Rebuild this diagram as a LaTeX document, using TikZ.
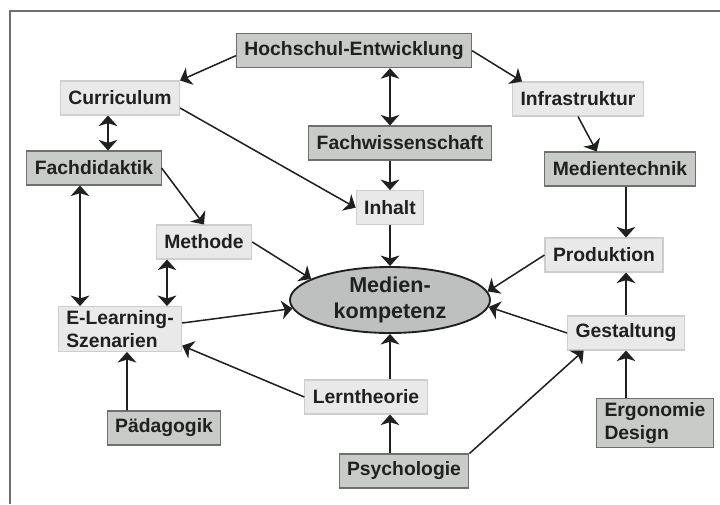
\documentclass[tikz,border=0pt]{standalone}
\usepackage{fontspec}
\setmainfont{Liberation Sans}
\usepackage{tikz}
\usetikzlibrary{shapes,shapes.geometric,positioning,calc,arrows.meta}

\definecolor{darkfill}{RGB}{200,203,200}
\definecolor{darkline}{RGB}{110,112,110}
\definecolor{lightfill}{RGB}{232,233,232}
\definecolor{lightline}{RGB}{205,207,205}
\definecolor{kernfill}{RGB}{190,192,191}
\definecolor{ink}{RGB}{32,32,32}

\begin{document}
\begin{tikzpicture}[
    box/.style={line width=0.9pt, inner xsep=0.24cm, minimum height=1.02cm, align=left, text=ink, font=\bfseries\fontsize{16.5}{19.5}\selectfont},
    hibox/.style={box, fill=darkfill, draw=darkline},
    lobox/.style={box, fill=lightfill, draw=lightline},
    kern/.style={ellipse, draw=ink, line width=1.6pt, fill=kernfill, minimum width=6cm, minimum height=1.98cm, inner sep=0pt, align=center, text=ink, font=\bfseries\fontsize{18.4}{21.5}\selectfont},
    arr/.style={-{Stealth[length=9pt,width=16pt,inset=2.5pt]}, line width=1.3pt, draw=ink},
    darr/.style={{Stealth[length=9pt,width=16pt,inset=2.5pt]}-{Stealth[length=9pt,width=16pt,inset=2.5pt]}, line width=1.3pt, draw=ink}
]
    \useasboundingbox (0,0) rectangle (21.6,-15.12);
    % frame (only top and left edge visible)
    \draw[line width=1.8pt, draw=darkline] (0.3,-15.12) -- (0.3,-0.33) -- (21.6,-0.33);

    % --- top row ---
    \node[hibox] (hoch) at (10.62,-1.52) {Hochschul-Entwicklung};
    \node[lobox] (curr) at (3.6,-2.94) {Curriculum};
    \node[lobox] (infra) at (17.34,-2.97) {Infrastruktur};
    \node[hibox] (fachd) at (2.82,-5.04) {Fachdidaktik};
    \node[hibox] (fachw) at (12.0,-4.29) {Fachwissenschaft};
    \node[hibox] (medtech) at (18.6,-5.07) {Medientechnik};

    % --- middle ---
    \node[lobox] (inhalt) at (11.7,-6.23) {Inhalt};
    \node[lobox] (methode) at (6.12,-7.26) {Methode};
    \node[kern] (medkomp) at (11.7,-9.0) {Medien-\\kompetenz};
    \node[lobox] (prod) at (18.12,-7.65) {Produktion};
    \node[lobox] (elearn) at (3.6,-9.87) {E-Learning-\\Szenarien};
    \node[lobox] (gest) at (18.78,-9.99) {Gestaltung};

    % --- bottom row ---
    \node[lobox] (lern) at (10.98,-11.91) {Lerntheorie};
    \node[hibox] (paed) at (4.92,-12.84) {Pädagogik};
    \node[hibox] (ergo) at (19.65,-12.69) {Ergonomie\\Design};
    \node[hibox] (psych) at (12.12,-14.13) {Psychologie};

    % --- connectors ---
    \draw[arr] ([yshift=-0.15cm]hoch.west) -- (curr.north east);
    \draw[arr] (hoch.east) -- ([xshift=3mm]infra.north west);
    \draw[darr] (hoch.south -| inhalt) -- (fachw.north -| inhalt);
    \draw[arr] (fachw.south -| inhalt) -- (inhalt.north);
    \draw[arr] (inhalt.south) -- (medkomp.north);
    \draw[darr] ([xshift=-0.36cm]curr.south) -- ([xshift=0.42cm]fachd.north);
    \draw[arr] ([yshift=-0.3cm]curr.east) -- (inhalt.west);
    \draw[arr] (fachd.east) -- (methode.north);
    \draw[darr] ([xshift=-0.42cm]fachd.south) -- ([xshift=-1.2cm]elearn.north);
    \draw[darr] ([xshift=-1.11cm]methode.south) -- ([xshift=1.41cm]elearn.north);
    \draw[arr] (methode.east) -- (medkomp.165);
    \draw[arr] ([yshift=0.18cm]elearn.east) -- (medkomp.185);
    \draw[arr] ([xshift=-1.11cm]paed.north) -- ([xshift=0.21cm]elearn.south);
    \draw[arr] (infra.south) -- ([xshift=-7mm]medtech.north);
    \draw[arr] (medtech.south -| gest) -- (prod.north -| gest);
    \draw[arr] (gest.north) -- (prod.south -| gest);
    \draw[arr] (ergo.north -| gest) -- (gest.south);
    \draw[arr] (prod.west) -- (medkomp.5);
    \draw[arr] (gest.west) -- (medkomp.-4);
    \draw[arr] (lern.west) -- (elearn.-15);
    \draw[arr] (lern.north -| medkomp) -- (medkomp.south);
    \draw[arr] (psych.north -| medkomp) -- (lern.south -| medkomp);
    \draw[arr] (psych.north east) -- ([xshift=5mm]gest.south west);
\end{tikzpicture}
\end{document}
